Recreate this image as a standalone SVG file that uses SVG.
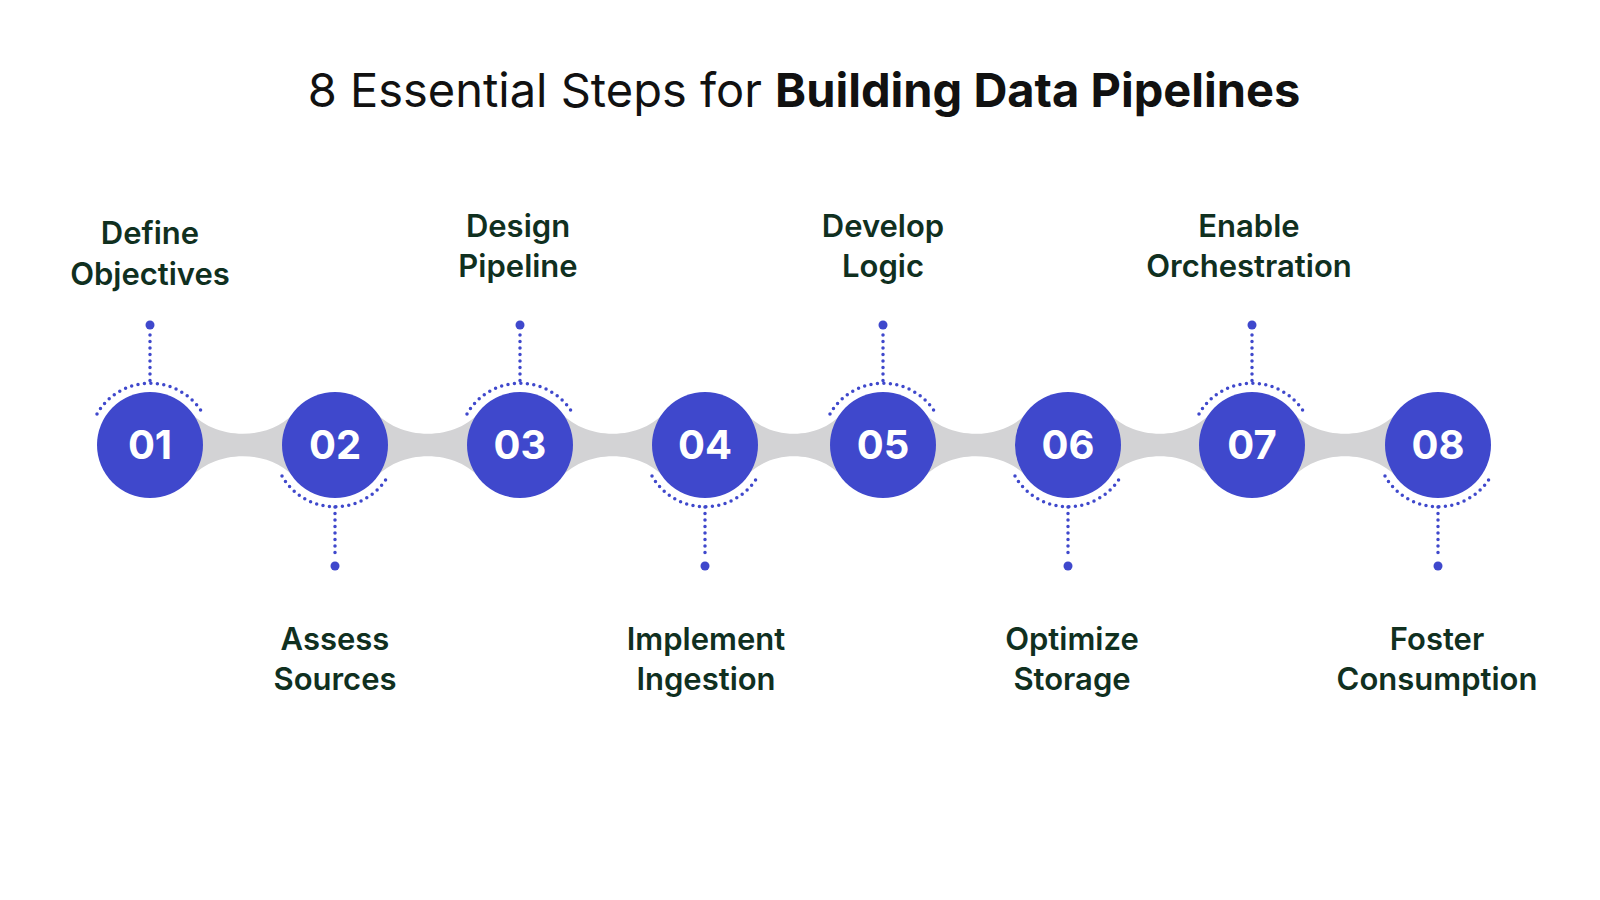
<svg xmlns="http://www.w3.org/2000/svg" width="1600" height="900" viewBox="0 0 1600 900">
<style>
.lbl{font-family:"Inter","Liberation Sans",sans-serif;font-weight:600;font-size:31px;fill:#10301f;text-anchor:middle}
.num{font-family:"Inter","Liberation Sans",sans-serif;font-weight:700;font-size:40px;fill:#fff;text-anchor:middle}
.c{fill:#3f48cc}
.dot{fill:none;stroke:#3f48cc;stroke-width:3.5;stroke-linecap:round;stroke-dasharray:0 6.5}
.pin{fill:#3f48cc}
.band{fill:#d3d3d5}
</style>
<rect width="1600" height="900" fill="#fff"/>
<text x="804" y="107" font-family="Inter,'Liberation Sans',sans-serif" font-size="47" fill="#111" text-anchor="middle"><tspan font-weight="400">8 Essential Steps for </tspan><tspan font-weight="700">Building Data Pipelines</tspan></text>
<g id="connectors">
<path class="band" d="M188,409 C213,442 273,442 297,409 L297,481 C273,448 213,448 188,481 Z"/>
<path class="band" d="M373,409 C398,442 458,442 482,409 L482,481 C458,448 398,448 373,481 Z"/>
<path class="band" d="M558,409 C583,442 643,442 667,409 L667,481 C643,448 583,448 558,481 Z"/>
<path class="band" d="M743,409 C765,442 823,442 845,409 L845,481 C823,448 765,448 743,481 Z"/>
<path class="band" d="M921,409 C946,442 1006,442 1030,409 L1030,481 C1006,448 946,448 921,481 Z"/>
<path class="band" d="M1106,409 C1130,442 1190,442 1214,409 L1214,481 C1190,448 1130,448 1106,481 Z"/>
<path class="band" d="M1290,409 C1315,442 1375,442 1400,409 L1400,481 C1375,448 1315,448 1290,481 Z"/>
</g>
<g id="step1"><path class="dot" d="M97,414 A61,61 0 0 1 203,414"/><line class="dot" x1="150" y1="335" x2="150" y2="384"/><circle class="pin" cx="150" cy="325" r="4.5"/><circle class="c" cx="150" cy="445" r="53"/><text class="num" x="150" y="459">01</text><text class="lbl" x="150" y="244">Define</text><text class="lbl" x="150" y="285">Objectives</text></g>
<g id="step2"><path class="dot" d="M282,476 A61,61 0 0 0 388,476"/><line class="dot" x1="335" y1="507" x2="335" y2="556"/><circle class="pin" cx="335" cy="566" r="4.5"/><circle class="c" cx="335" cy="445" r="53"/><text class="num" x="335" y="459">02</text><text class="lbl" x="335" y="650">Assess</text><text class="lbl" x="335" y="690">Sources</text></g>
<g id="step3"><path class="dot" d="M467,414 A61,61 0 0 1 573,414"/><line class="dot" x1="520" y1="335" x2="520" y2="384"/><circle class="pin" cx="520" cy="325" r="4.5"/><circle class="c" cx="520" cy="445" r="53"/><text class="num" x="520" y="459">03</text><text class="lbl" x="518" y="237">Design</text><text class="lbl" x="518" y="277">Pipeline</text></g>
<g id="step4"><path class="dot" d="M652,476 A61,61 0 0 0 758,476"/><line class="dot" x1="705" y1="507" x2="705" y2="556"/><circle class="pin" cx="705" cy="566" r="4.5"/><circle class="c" cx="705" cy="445" r="53"/><text class="num" x="705" y="459">04</text><text class="lbl" x="706" y="650">Implement</text><text class="lbl" x="706" y="690">Ingestion</text></g>
<g id="step5"><path class="dot" d="M830,414 A61,61 0 0 1 936,414"/><line class="dot" x1="883" y1="335" x2="883" y2="384"/><circle class="pin" cx="883" cy="325" r="4.5"/><circle class="c" cx="883" cy="445" r="53"/><text class="num" x="883" y="459">05</text><text class="lbl" x="883" y="237">Develop</text><text class="lbl" x="883" y="277">Logic</text></g>
<g id="step6"><path class="dot" d="M1015,476 A61,61 0 0 0 1121,476"/><line class="dot" x1="1068" y1="507" x2="1068" y2="556"/><circle class="pin" cx="1068" cy="566" r="4.5"/><circle class="c" cx="1068" cy="445" r="53"/><text class="num" x="1068" y="459">06</text><text class="lbl" x="1072" y="650">Optimize</text><text class="lbl" x="1072" y="690">Storage</text></g>
<g id="step7"><path class="dot" d="M1199,414 A61,61 0 0 1 1305,414"/><line class="dot" x1="1252" y1="335" x2="1252" y2="384"/><circle class="pin" cx="1252" cy="325" r="4.5"/><circle class="c" cx="1252" cy="445" r="53"/><text class="num" x="1252" y="459">07</text><text class="lbl" x="1249" y="237">Enable</text><text class="lbl" x="1249" y="277">Orchestration</text></g>
<g id="step8"><path class="dot" d="M1385,476 A61,61 0 0 0 1491,476"/><line class="dot" x1="1438" y1="507" x2="1438" y2="556"/><circle class="pin" cx="1438" cy="566" r="4.5"/><circle class="c" cx="1438" cy="445" r="53"/><text class="num" x="1438" y="459">08</text><text class="lbl" x="1437" y="650">Foster</text><text class="lbl" x="1437" y="690">Consumption</text></g>
</svg>
